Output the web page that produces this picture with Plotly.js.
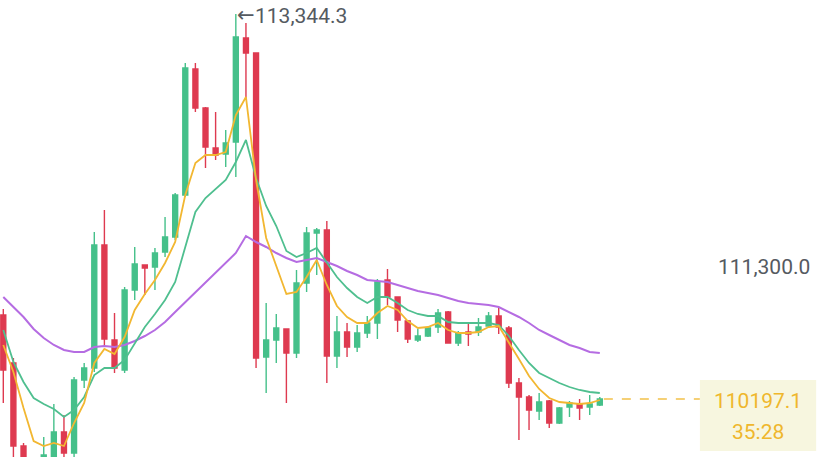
<!DOCTYPE html>
<html>
<head>
<meta charset="utf-8">
<script src="https://cdn.plot.ly/plotly-3.0.1.min.js"></script>
<style>
html,body{margin:0;padding:0;background:#fff;}
#chart{width:828px;height:457px;}
</style>
</head>
<body>
<div id="chart"></div>
<script>
var openP = [110883.6,110491.2,109812.7,109616.5,109657.4,109714.6,109927.2,109755.5,110352.3,110450.4,
111455.9,110679.3,110434.0,111088.0,111292.4,111276.0,111398.7,111521.3,111864.6,112894.7,
112575.9,112248.9,112199.8,112297.9,113148.1,113025.5,110540.3,110679.3,110769.2,110573.0,
111145.2,111554.0,111578.5,110548.5,110744.7,110622.0,110736.5,110818.2,111169.8,111030.8,
110834.6,110679.3,110712.0,110785.5,110908.2,110654.7,110744.7,110744.7,110793.7,110875.5,
110777.4,110327.7,110213.3,110098.8,110180.6,110000.7,110131.5,110156.1,110131.5,110147.9];
var closeP = [110434.0,109812.7,109616.5,109534.8,109739.1,109927.2,109755.5,110352.3,110450.4,111455.9,
110687.4,110450.4,111088.0,111300.6,111267.9,111390.5,111521.3,111864.6,112902.9,112575.9,
112257.0,112191.6,112289.7,113156.3,113025.5,110532.1,110679.3,110777.4,110573.0,111145.2,
111554.0,111578.5,110548.5,110744.7,110622.0,110736.5,110818.2,111153.4,111030.8,110842.8,
110687.4,110712.0,110777.4,110900.0,110654.7,110736.5,110728.3,110785.5,110875.5,110785.5,
110327.7,110213.3,110107.0,110172.4,110000.7,110123.4,110164.2,110123.4,110156.1,110197.1];
var highP = [110932.7,110532.1,109837.2,109657.4,109886.3,110156.1,110066.1,110376.8,110491.2,111562.2,
111742.0,110900.0,111112.5,111439.5,111292.4,111431.4,111684.8,111881.0,112943.7,112943.7,
112584.0,112543.2,112396.0,113344.3,113270.7,113025.5,110981.7,110891.8,110769.2,111251.5,
111603.0,111594.9,111652.1,110875.5,110818.2,110801.9,110875.5,111177.9,111259.7,111030.8,
110842.8,110769.2,110785.5,110932.7,110916.3,110752.8,110826.4,110859.1,110908.2,110949.0,
110793.7,110368.6,110229.6,110246.0,110188.8,110131.5,110180.6,110196.9,110229.6,110213.3];
var lowP = [110164.2,109698.3,109534.8,109453.0,109616.5,109681.9,109714.6,109722.8,110286.9,110417.7,
110622.0,110409.5,110409.5,111006.3,111047.1,111088.0,111357.8,111496.8,111848.3,112543.2,
112085.4,112150.8,112093.5,112011.8,112641.3,110450.4,110246.0,110491.2,110164.2,110532.1,
111071.7,111210.6,110327.7,110450.4,110540.3,110581.2,110695.6,110687.4,110965.4,110744.7,
110654.7,110662.9,110703.8,110736.5,110654.7,110630.2,110630.2,110712.0,110777.4,110728.3,
110286.9,109861.8,109943.5,110025.3,109959.9,109992.6,110049.8,110025.3,110066.1,110139.7];
var maFast = [110638.4,110417.7,110123.4,109853.6,109812.7,109837.2,109812.7,110000.7,110164.2,110491.2,
110605.7,110564.8,110703.8,110924.5,111055.3,111169.8,111308.7,111480.4,111864.6,112126.2,
112191.6,112191.6,112216.2,112518.6,112665.8,111987.3,111513.1,111292.4,111055.3,111071.7,
111194.3,111333.3,111128.9,110957.2,110867.3,110818.2,110818.2,110900.0,110957.2,110924.5,
110834.6,110777.4,110785.5,110818.2,110761.0,110736.5,110736.5,110744.7,110785.5,110793.7,
110662.9,110523.9,110385.0,110278.7,110205.1,110172.4,110164.2,110156.1,110164.2,110188.8];
var maMid = [110761.0,110499.4,110335.9,110205.1,110156.1,110115.2,110049.8,110107.0,110213.3,110393.1,
110450.4,110450.4,110515.8,110654.7,110785.5,110891.8,111006.3,111153.4,111431.4,111725.7,
111840.1,111913.7,111987.3,112134.4,112314.3,112003.6,111774.7,111611.2,111406.8,111357.8,
111390.5,111431.4,111308.7,111194.3,111104.4,111030.8,110981.7,111030.8,111030.8,110981.7,
110924.5,110891.8,110875.5,110875.5,110826.4,110818.2,110818.2,110818.2,110818.2,110801.9,
110712.0,110597.5,110491.2,110409.5,110368.6,110327.7,110295.0,110270.5,110254.2,110246.0];
var maSlow = [111030.8,110949.0,110867.3,110769.2,110695.6,110638.4,110597.5,110581.2,110581.2,110622.0,
110630.2,110622.0,110638.4,110671.1,110712.0,110761.0,110826.4,110908.2,110989.9,111063.5,
111153.4,111227.0,111308.7,111390.5,111529.5,111480.4,111439.5,111390.5,111349.6,111316.9,
111333.3,111349.6,111316.9,111284.2,111243.3,111210.6,111169.8,111161.6,111153.4,111128.9,
111104.4,111079.8,111063.5,111047.1,111022.6,110998.1,110981.7,110973.6,110965.4,110949.0,
110908.2,110867.3,110818.2,110761.0,110720.1,110679.3,110638.4,110613.9,110581.2,110573.0];
var peakArrow = "←";
var peakText = "113,344.3";
var peakValue = 113344.3;
var peakIndex = 23;
var gridLabel = "111,300.0";
var gridValue = 111300.0;
var lastPrice = 110197.1;
var lastPriceText = "110197.1";
var countdownText = "35:28";

var idx = openP.map(function(_, i){ return i; });
var GREEN = '#45c08a', RED = '#de3a50';

var traces = [
  {type:'candlestick', x:idx, open:openP, high:highP, low:lowP, close:closeP,
   increasing:{line:{color:GREEN, width:1.4}, fillcolor:GREEN},
   decreasing:{line:{color:RED, width:1.4}, fillcolor:RED},
   whiskerwidth:0, hoverinfo:'skip', showlegend:false},
  {type:'scatter', mode:'lines', x:idx, y:maSlow, line:{color:'#b56ce2', width:2}, hoverinfo:'skip', showlegend:false},
  {type:'scatter', mode:'lines', x:idx, y:maMid, line:{color:'#4fbf8f', width:1.8}, hoverinfo:'skip', showlegend:false},
  {type:'scatter', mode:'lines', x:idx, y:maFast, line:{color:'#f2b731', width:1.8}, hoverinfo:'skip', showlegend:false}
];

var lastX = idx[idx.length-1];
var layout = {
  width:828, height:457,
  margin:{l:0, r:0, t:0, b:0},
  paper_bgcolor:'#ffffff', plot_bgcolor:'#ffffff',
  font:{family:'Roboto, "Noto Sans", sans-serif'},
  boxgap:0.3,
  xaxis:{range:[-0.326, 81.57], showgrid:false, zeroline:false, showticklabels:false, showline:false, ticks:'', rangeslider:{visible:false}, fixedrange:true},
  yaxis:{range:[109722.8, 113458.75], showgrid:false, zeroline:false, showticklabels:false, showline:false, ticks:'', fixedrange:true},
  shapes:[
    {type:'line', xref:'x', yref:'y', x0:lastX+0.4, x1:68.9, y0:lastPrice, y1:lastPrice,
     line:{color:'#f2c14a', width:1.5, dash:'dash'}, layer:'below'},
    {type:'rect', xref:'x', yref:'y', x0:68.9, x1:80.4, y0:109771.9, y1:110352.3,
     fillcolor:'#f7f6df', line:{width:0}}
  ],
  annotations:[
    {xref:'x', yref:'y', x:peakIndex, y:peakValue, text:peakArrow, showarrow:false,
     xanchor:'left', yanchor:'middle', xshift:-1, yshift:-1, font:{size:21, color:'#555a61', family:'"DejaVu Sans", sans-serif'}},
    {xref:'x', yref:'y', x:peakIndex, y:peakValue, text:peakText, showarrow:false,
     xanchor:'left', yanchor:'middle', xshift:17, yshift:-2, font:{size:21, color:'#555a61'}},
    {xref:'paper', yref:'y', x:0.981, y:gridValue, text:gridLabel, showarrow:false,
     xanchor:'right', yanchor:'middle', yshift:-3, font:{size:21, color:'#555a61'}},
    {xref:'x', yref:'y', x:74.65, y:lastPrice, text:lastPriceText, showarrow:false,
     xanchor:'center', yanchor:'middle', yshift:-2, font:{size:21, color:'#efb72c'}},
    {xref:'x', yref:'y', x:74.65, y:lastPrice, text:countdownText, showarrow:false,
     xanchor:'center', yanchor:'middle', yshift:-33, font:{size:21, color:'#efb72c'}}
  ]
};

Plotly.newPlot('chart', traces, layout, {displayModeBar:false, staticPlot:true});
</script>
</body>
</html>
